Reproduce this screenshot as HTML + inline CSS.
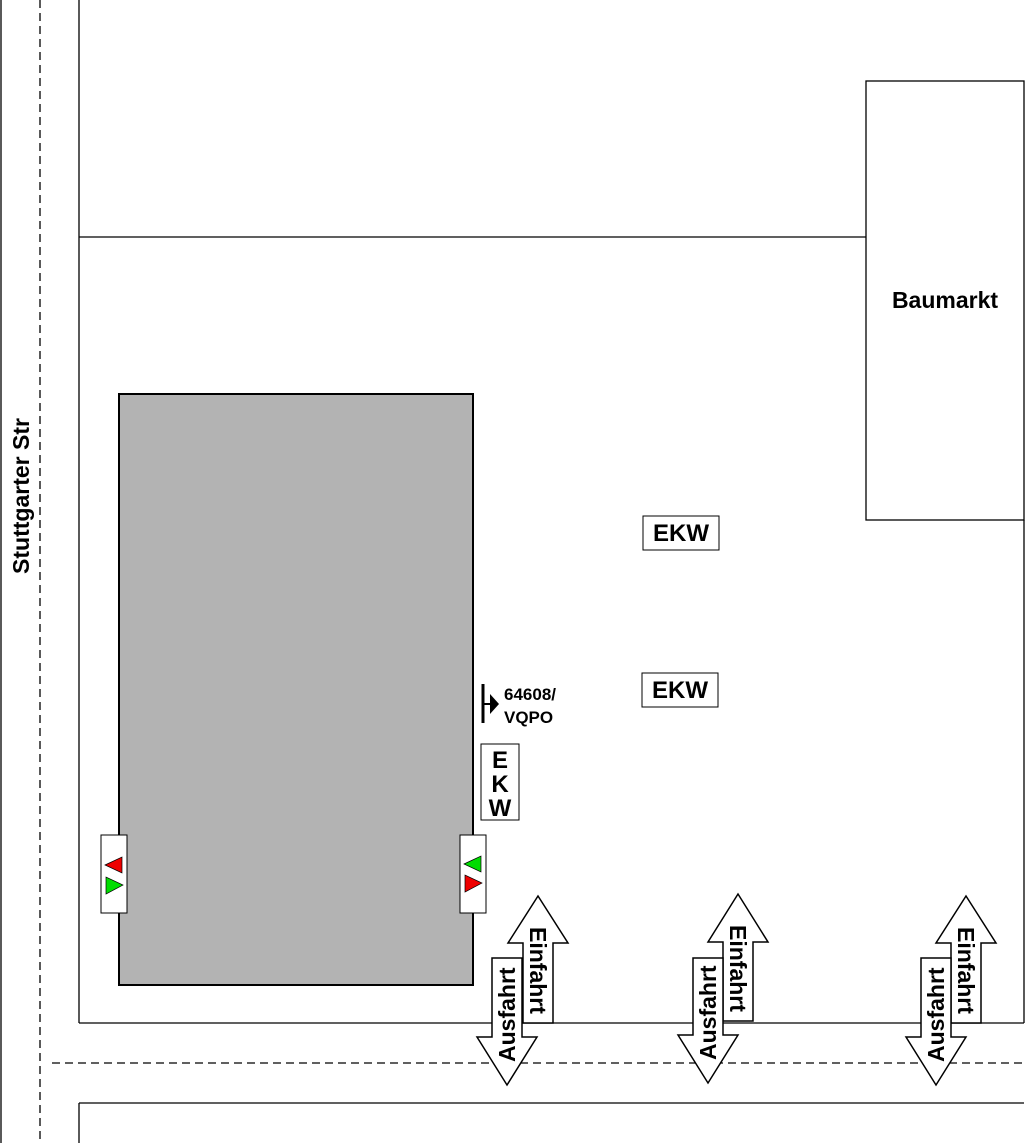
<!DOCTYPE html>
<html><head><style>body{margin:0;background:#fff}svg{display:block}text{font-family:"Liberation Sans",sans-serif;font-weight:bold}</style></head>
<body>
<svg width="1026" height="1143" viewBox="0 0 1026 1143" xmlns="http://www.w3.org/2000/svg">
<g stroke="#000" stroke-width="1.3" fill="none">
<line x1="1" y1="0" x2="1" y2="1143"/>
<line x1="40" y1="0" x2="40" y2="1143" stroke-dasharray="8,5"/>
<line x1="79" y1="0" x2="79" y2="1023"/>
<line x1="79" y1="1103" x2="79" y2="1143"/>
<line x1="79" y1="237" x2="866" y2="237"/>
<rect x="866" y="81" width="158" height="439"/>
<line x1="1024" y1="520" x2="1024" y2="1023"/>
<line x1="79" y1="1023" x2="1024" y2="1023"/>
<line x1="52" y1="1063" x2="1024" y2="1063" stroke-dasharray="8,5"/>
<line x1="79" y1="1103" x2="1024" y2="1103"/>
</g>
<rect x="119" y="394" width="354" height="591" fill="#b3b3b3" stroke="#000" stroke-width="2"/>
<text x="945" y="308" font-size="23" text-anchor="middle">Baumarkt</text>
<text transform="translate(29,496) rotate(-90)" font-size="23" text-anchor="middle">Stuttgarter Str</text>
<!-- signals -->
<rect x="101" y="835" width="26" height="78" fill="#fff" stroke="#000"/>
<polygon points="105,865 122,857 122,873" fill="#e00" stroke="#000" stroke-width="0.7"/>
<polygon points="106,877 106,894 123,885" fill="#0d0" stroke="#000" stroke-width="0.7"/>
<rect x="460" y="835" width="26" height="78" fill="#fff" stroke="#000"/>
<polygon points="464,864 481,856 481,872" fill="#0d0" stroke="#000" stroke-width="0.7"/>
<polygon points="465,875 465,892 482,883" fill="#e00" stroke="#000" stroke-width="0.7"/>
<!-- EKW -->
<rect x="643" y="516" width="76" height="34" fill="#fff" stroke="#000"/>
<text x="681" y="541" font-size="24" text-anchor="middle">EKW</text>
<rect x="642" y="673" width="76" height="34" fill="#fff" stroke="#000"/>
<text x="680" y="698" font-size="24" text-anchor="middle">EKW</text>
<rect x="481" y="744" width="38" height="76" fill="#fff" stroke="#000"/>
<text x="500" y="768" font-size="24" text-anchor="middle">E</text>
<text x="500" y="792" font-size="24" text-anchor="middle">K</text>
<text x="500" y="816" font-size="24" text-anchor="middle">W</text>
<line x1="483" y1="684" x2="483" y2="723" stroke="#000" stroke-width="3"/>
<line x1="483" y1="704" x2="492" y2="704" stroke="#000" stroke-width="2"/>
<polygon points="490,694 499,704 490,714" fill="#000"/>
<text x="504" y="700" font-size="17">64608/</text>
<text x="504" y="723" font-size="17">VQPO</text>
<!-- arrows -->
<g stroke="#000" stroke-width="1.5" fill="#fff">
<polygon points="523,1023 523,943 508,943 538,896 568,943 553,943 553,1023"/>
<polygon points="492,958 522,958 522,1037 537,1037 507,1085 477,1037 492,1037"/>
<polygon points="723,1021 723,942 708,942 738,894 768,942 753,942 753,1021"/>
<polygon points="693,958 723,958 723,1035 738,1035 708,1083 678,1035 693,1035"/>
<polygon points="951,1023 951,943 936,943 966,896 996,943 981,943 981,1023"/>
<polygon points="921,958 951,958 951,1037 966,1037 936,1085 906,1037 921,1037"/>
</g>
<g font-size="23">
<text transform="translate(530,927) rotate(90)">Einfahrt</text>
<text transform="translate(515,1062) rotate(-90)">Ausfahrt</text>
<text transform="translate(730,925) rotate(90)">Einfahrt</text>
<text transform="translate(716,1060) rotate(-90)">Ausfahrt</text>
<text transform="translate(958,927) rotate(90)">Einfahrt</text>
<text transform="translate(944,1062) rotate(-90)">Ausfahrt</text>
</g>
</svg>
</body></html>
